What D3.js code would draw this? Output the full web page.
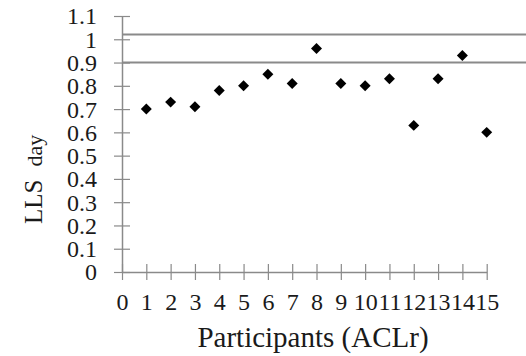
<!DOCTYPE html>
<html>
<head>
<meta charset="utf-8">
<script src="https://cdn.jsdelivr.net/npm/d3@7"></script>
<style>
  body { margin: 0; background: #fff; }
  text { font-family: "Liberation Serif", "DejaVu Serif", serif; fill: #1a1a1a; }
</style>
</head>
<body>
<div id="chart"></div>
<script>
// participants and their LLS (day) values
var participants = [1, 2, 3, 4, 5, 6, 7, 8, 9, 10, 11, 12, 13, 14, 15];
var llsDay = [0.70, 0.73, 0.71, 0.78, 0.80, 0.85, 0.81, 0.96, 0.81, 0.80, 0.83, 0.63, 0.83, 0.93, 0.60];
// horizontal reference lines
var refLines = [1.02, 0.9];
var yTicks = [0, 0.1, 0.2, 0.3, 0.4, 0.5, 0.6, 0.7, 0.8, 0.9, 1, 1.1];
var xTicks = d3.range(0, 16);

var width = 526, height = 356;
var margin = {top: 16, right: 39.3, bottom: 84, left: 122};
var serif = '"Liberation Serif", "DejaVu Serif", serif';

var svg = d3.select("#chart").append("svg")
    .attr("width", width)
    .attr("height", height);

var xScale = d3.scaleLinear()
    .domain([0, 15])
    .range([margin.left, width - margin.right]);

var yScale = d3.scaleLinear()
    .domain([0, 1.1])
    .range([height - margin.bottom, margin.top]);

var axisColor = "#8a8a8a";

// reference lines run to the right edge
svg.selectAll(".ref")
    .data(refLines)
    .enter().append("line")
    .attr("class", "ref")
    .attr("x1", xScale(0))
    .attr("x2", width)
    .attr("y1", function(d) { return yScale(d); })
    .attr("y2", function(d) { return yScale(d); })
    .attr("stroke", axisColor)
    .attr("stroke-width", 2);

// y axis, ticks crossing the line
var yAxis = svg.append("g")
    .attr("transform", "translate(" + xScale(0) + ",0)")
    .call(d3.axisLeft(yScale).tickValues(yTicks).tickSize(0).tickFormat(function(d) { return d3.format("")(+d.toFixed(1)); }));
yAxis.attr("font-family", serif).attr("font-size", 24);
yAxis.select(".domain").attr("stroke", axisColor).attr("stroke-width", 1.5);
yAxis.selectAll(".tick line").attr("x1", -8).attr("x2", 8).attr("stroke", axisColor).attr("stroke-width", 1.2);
yAxis.selectAll(".tick text")
    .attr("x", -25)
    .attr("dy", "0.33em");

// x axis
var xAxis = svg.append("g")
    .attr("transform", "translate(0," + yScale(0) + ")")
    .call(d3.axisBottom(xScale).tickValues(xTicks).tickSize(0));
xAxis.attr("font-family", serif).attr("font-size", 24);
xAxis.select(".domain").attr("stroke", axisColor).attr("stroke-width", 1.5);
xAxis.selectAll(".tick line").attr("y1", -8).attr("y2", 8).attr("stroke", axisColor).attr("stroke-width", 1.2);
xAxis.selectAll(".tick text")
    .attr("y", 38)
    .attr("dy", 0);

// axis titles
svg.append("text")
    .attr("x", 313)
    .attr("y", 347)
    .attr("text-anchor", "middle")
    .style("font-size", "29px")
    .text("Participants (ACLr)");

var yTitle = svg.append("text")
    .attr("transform", "translate(42,224) rotate(-90)")
    .attr("text-anchor", "start")
    .style("font-size", "25px");
yTitle.append("tspan").text("LLS");
yTitle.append("tspan").attr("dx", 13).style("font-size", "22px").text("day");

// diamond markers
var diamond = d3.symbol().type(d3.symbolSquare).size(60);
svg.selectAll(".dot")
    .data(llsDay)
    .enter().append("path")
    .attr("class", "dot")
    .attr("d", diamond)
    .attr("transform", function(d, i) {
        return "translate(" + xScale(participants[i]) + "," + yScale(d) + ") rotate(45)";
    })
    .attr("fill", "#000");
</script>
</body>
</html>
